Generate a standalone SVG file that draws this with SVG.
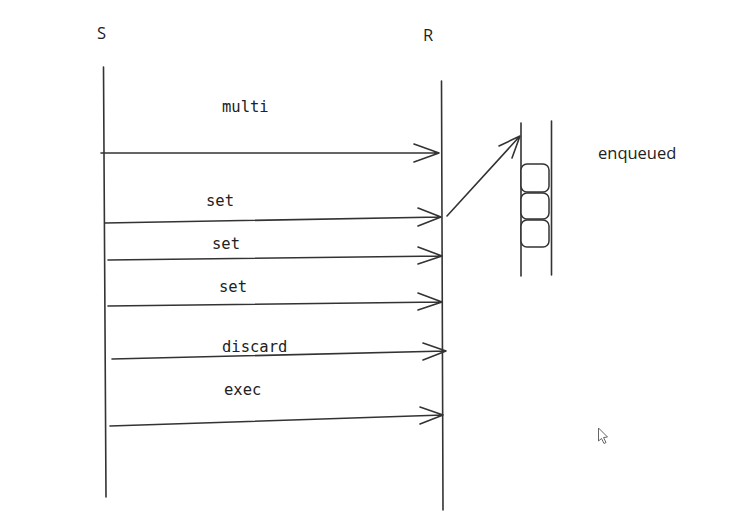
<svg xmlns="http://www.w3.org/2000/svg" width="744" height="523" viewBox="0 0 744 523">
<style>
.ln{stroke:#333;stroke-width:1.6;fill:none;stroke-linecap:round;stroke-linejoin:round}
.lbl{font-family:"DejaVu Sans Mono","Liberation Mono",monospace;font-size:15.5px;fill:#222}
.nm{font-family:"Open Sans","Noto Sans",sans-serif;font-size:16.5px;fill:#222}
.box{stroke:#333;stroke-width:1.5;fill:#fff}
</style>
<rect width="744" height="523" fill="#fff"/>
<g id="S">
<text class="nm" x="97" y="39">S</text>
<path class="ln" d="M103.5 67 L106 497"/>
</g>
<g id="R">
<text class="nm" x="423" y="41">R</text>
<path class="ln" d="M441.5 81 L443 510"/>
</g>
<g id="queue">
<path class="ln" d="M521 123 L521 276"/>
<path class="ln" d="M551.5 121 L551.5 275"/>
<rect class="box" x="521" y="164" width="28" height="28" rx="6"/>
<rect class="box" x="521" y="193" width="28" height="26" rx="6"/>
<rect class="box" x="521" y="220" width="28" height="27" rx="6"/>
<text class="nm" x="598" y="159">enqueued</text>
</g>
<g id="connectors">
<path class="ln" d="M101 153 L439 153 M414 144 L439 153 L414 162"/>
<text class="lbl" x="222" y="112">multi</text>
<path class="ln" d="M105 223 L441 217 M418 208 L441 217 L418 226"/>
<text class="lbl" x="206" y="206">set</text>
<path class="ln" d="M108 260 L442 256 M418 247 L442 256 L418 264"/>
<text class="lbl" x="212" y="249">set</text>
<path class="ln" d="M108 306 L442 302 M418 293 L442 302 L418 310"/>
<text class="lbl" x="219" y="292">set</text>
<path class="ln" d="M112 359 L446 351 M423 343 L446 351 L423 360"/>
<text class="lbl" x="222" y="352">discard</text>
<path class="ln" d="M110 426 L443 415 M420 407 L443 415 L420 424"/>
<text class="lbl" x="224" y="395">exec</text>
<path class="ln" d="M447 216 L520 136 M499 146 L520 136 L512 158"/>
</g>
<g id="cursor">
<path d="M598.5 428 L598.5 441 L601.5 438.5 L604 443.5 L606 442.5 L603.5 437.5 L607.5 437 Z" fill="#fff" stroke="#666" stroke-width="1"/>
</g>
</svg>
